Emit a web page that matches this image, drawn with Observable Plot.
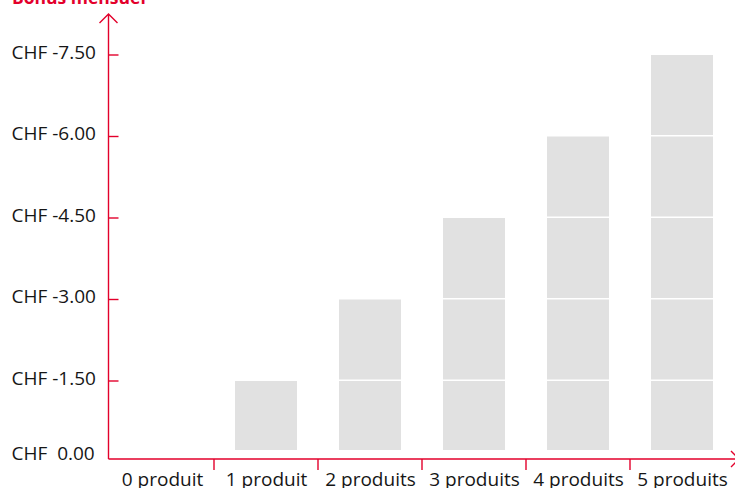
<!DOCTYPE html>
<html>
<head>
<meta charset="utf-8">
<script src="https://cdn.jsdelivr.net/npm/d3@7"></script>
<script src="https://cdn.jsdelivr.net/npm/@observablehq/plot@0.6"></script>
<style>
  html, body { margin: 0; padding: 0; background: #fff; }
  #wrap { position: relative; width: 735px; height: 488px; overflow: hidden; }
  #title { position: absolute; left: 12px; top: -15px; margin: 0; font: bold 17.5px "Open Sans", sans-serif; color: #e3002b; z-index: 2; }
  svg text { white-space: pre; }
</style>
</head>
<body>
<div id="wrap">
  <div id="title">Bonus mensuel</div>
  <div id="chart"></div>
</div>
<script>
const categories = ["0 produit", "1 produit", "2 produits", "3 produits", "4 produits", "5 produits"];
const bonus = [0, 1.5, 3, 4.5, 6, 7.5];
const yTicks = [0, 1.5, 3, 4.5, 6, 7.5];
const yTickLabels = ["CHF\u00a0\u00a00.00", "CHF -1.50", "CHF -3.00", "CHF -4.50", "CHF -6.00", "CHF -7.50"];

const RED = "#e3002b";
const GREY = "#e1e1e1";
const INK = "#161616";
const FONT = "'Open Sans', sans-serif";
const W = 735, H = 488, ML = 108, MR = 0, MT = 55, MB = 25.5;
const step = yTicks[1] - yTicks[0];

// each bar split into segments at the tick values
const segments = bonus.flatMap((v, i) =>
  d3.range(Math.round(v / step)).map(k => ({
    cat: categories[i],
    y1: yTicks[k],
    y2: yTicks[k + 1],
    first: k === 0
  }))
);

const ticksTable = yTicks.map((v, i) => ({v, label: yTickLabels[i]}));
const axisOffset = 3.5;

function axes(index, scales, values, dims) {
  const {width, marginLeft} = dims;
  const x0 = marginLeft + 0.5;
  const yb = scales.y(0) - axisOffset;
  const g = d3.create("svg:g")
    .attr("fill", "none").attr("stroke", RED).attr("stroke-width", 1.4);
  g.append("path").attr("d", `M${x0},${yb}V14M${x0 - 9},23L${x0},14L${x0 + 9},23`);
  g.append("path").attr("d", `M${x0},${yb}H${width + 4}M${width - 4},${yb - 8}L${width + 4},${yb}L${width - 4},${yb + 8}`);
  for (const v of yTicks.slice(1)) {
    g.append("path").attr("d", `M${x0},${scales.y(v)}h10`);
  }
  for (const c of categories.slice(1)) {
    g.append("path").attr("d", `M${scales.x(c)},${yb}v11`);
  }
  return g.node();
}

const chart = Plot.plot({
  width: W, height: H,
  marginLeft: ML, marginRight: MR, marginTop: MT, marginBottom: MB,
  style: {fontFamily: FONT, background: "transparent", overflow: "visible"},
  x: {type: "band", domain: categories, padding: 0, axis: null},
  y: {domain: [0, 7.5], axis: null},
  marks: [
    Plot.rectY(segments.filter(d => d.first), {
      x: "cat", y1: "y1", y2: "y2", fill: GREY,
      insetLeft: 21, insetRight: 21, insetBottom: 12.5
    }),
    Plot.rectY(segments.filter(d => !d.first), {
      x: "cat", y1: "y1", y2: "y2", fill: GREY,
      insetLeft: 21, insetRight: 21, insetBottom: 1.5
    }),
    axes,
    Plot.text(ticksTable.filter(d => d.v > 0), {
      y: "v", text: "label", frameAnchor: "left", textAnchor: "start",
      lineAnchor: "bottom", dx: -97, dy: 3.4, fontSize: 19, fill: INK
    }),
    Plot.text(ticksTable.filter(d => d.v === 0), {
      y: "v", text: "label", frameAnchor: "left", textAnchor: "start",
      lineAnchor: "bottom", dx: -97, dy: -3.5, fontSize: 19, fill: INK
    }),
    Plot.text(categories, {
      x: d => d, text: d => d, frameAnchor: "bottom",
      lineAnchor: "bottom", dy: 22.5, fontSize: 19, fill: INK
    })
  ]
});
document.getElementById("chart").appendChild(chart);
</script>
</body>
</html>
